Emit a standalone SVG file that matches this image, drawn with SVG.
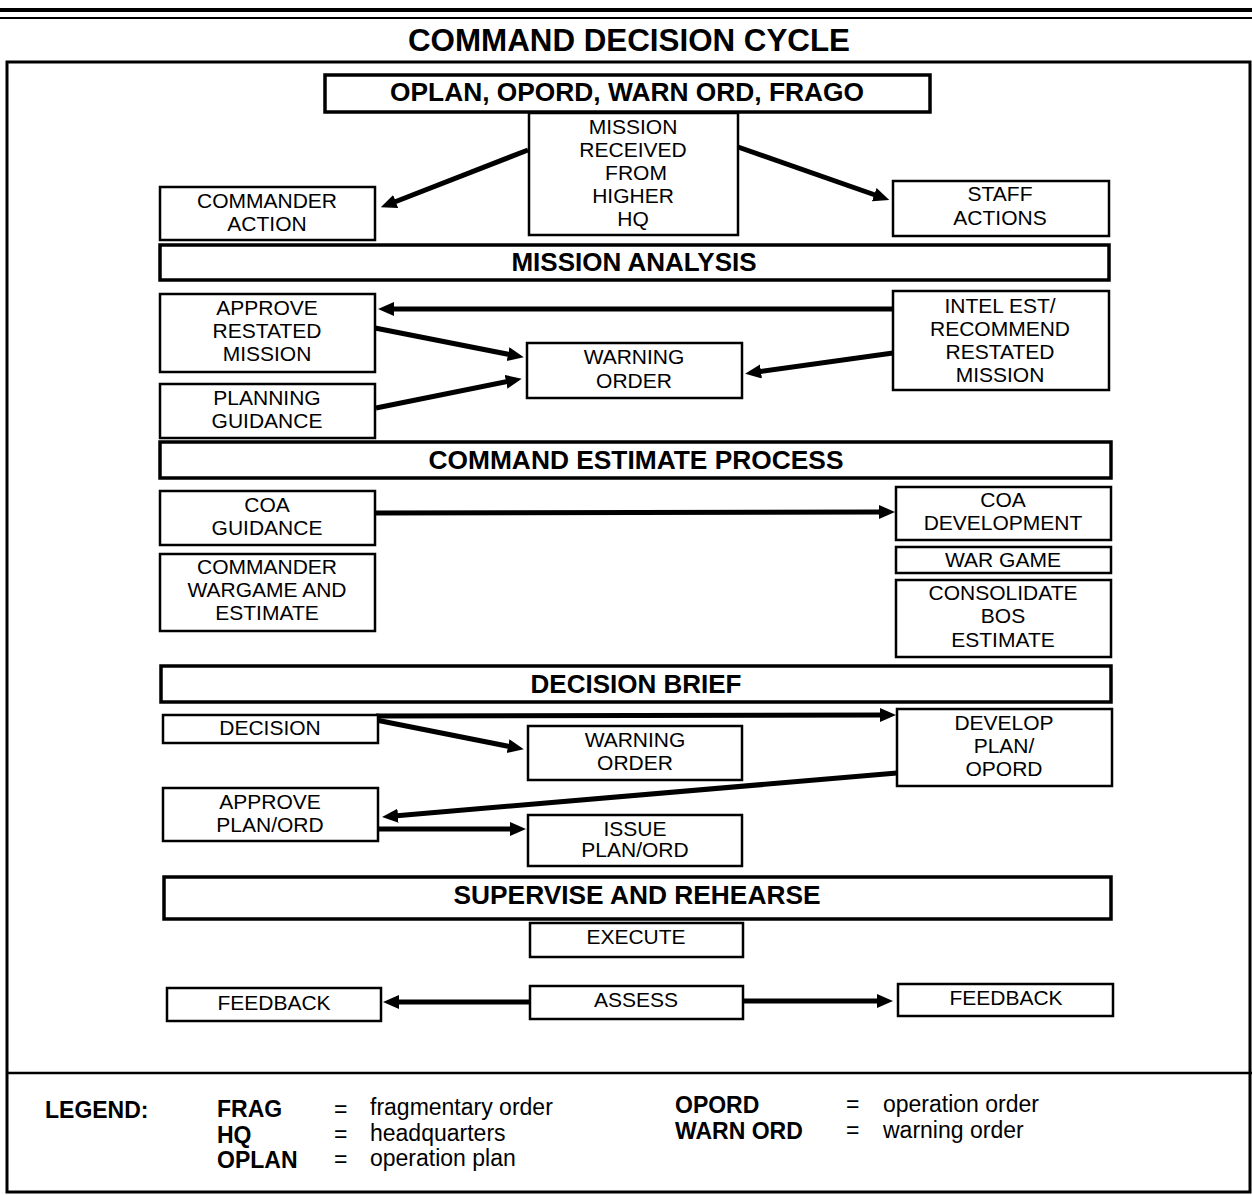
<svg xmlns="http://www.w3.org/2000/svg" width="1252" height="1195" viewBox="0 0 1252 1195">
<style>
.bx{fill:#fff;stroke:#000;stroke-width:2.5}
.hd{fill:#fff;stroke:#000;stroke-width:3.5}
.t{font-family:"Liberation Sans",Arial,sans-serif;font-size:21px;text-anchor:middle;fill:#000}
.h{font-family:"Liberation Sans",Arial,sans-serif;font-size:26px;font-weight:bold;text-anchor:middle;fill:#000}
.lg{font-family:"Liberation Sans",Arial,sans-serif;font-size:23px;fill:#000}
.lb{font-family:"Liberation Sans",Arial,sans-serif;font-size:23px;font-weight:bold;fill:#000}
.c{stroke:#000;stroke-width:5;fill:none;marker-end:url(#ah)}
</style>
<defs>
<marker id="ah" markerUnits="userSpaceOnUse" markerWidth="18" markerHeight="16" refX="4" refY="7" orient="auto">
<path d="M0,0 L16,7 L0,14 z" fill="#000"/>
</marker>
</defs>
<rect x="0" y="0" width="1252" height="1195" fill="#fff"/>
<rect x="0" y="8" width="1252" height="4" fill="#000"/>
<rect x="0" y="17" width="1252" height="2" fill="#000"/>
<text x="629" y="51" font-family="Liberation Sans,Arial,sans-serif" font-size="31" font-weight="bold" text-anchor="middle" textLength="442" lengthAdjust="spacingAndGlyphs">COMMAND DECISION CYCLE</text>
<rect x="7" y="62" width="1243" height="1130" fill="none" stroke="#000" stroke-width="3"/>
<line x1="8" y1="1073" x2="1252" y2="1073" stroke="#000" stroke-width="2.5"/>

<g id="connectors">
<line class="c" x1="528" y1="150" x2="392" y2="203"/>
<line class="c" x1="738" y1="147" x2="878" y2="196"/>
<line class="c" x1="893" y1="309" x2="390" y2="309"/>
<line class="c" x1="375" y1="328" x2="512" y2="355"/>
<line class="c" x1="376" y1="408" x2="510" y2="381"/>
<line class="c" x1="893" y1="353" x2="757" y2="372"/>
<line class="c" x1="376" y1="513" x2="883" y2="512"/>
<line class="c" x1="376" y1="716" x2="884" y2="715"/>
<line class="c" x1="376" y1="720" x2="512" y2="747"/>
<line class="c" x1="897" y1="773" x2="394" y2="816"/>
<line class="c" x1="378" y1="829" x2="514" y2="829"/>
<line class="c" x1="530" y1="1002" x2="395" y2="1002"/>
<line class="c" x1="743" y1="1001" x2="881" y2="1001"/>
</g>

<g id="oplan"><rect class="hd" x="325" y="75" width="605" height="37"/><text class="h" x="627" y="101" textLength="474" lengthAdjust="spacingAndGlyphs">OPLAN, OPORD, WARN ORD, FRAGO</text></g>
<g id="mission-received"><rect class="bx" x="529" y="113" width="209" height="122"/>
<text class="t" x="633" y="134">MISSION</text><text class="t" x="633" y="157">RECEIVED</text><text class="t" x="636" y="180">FROM</text><text class="t" x="633" y="203">HIGHER</text><text class="t" x="633" y="226">HQ</text></g>
<g id="commander-action"><rect class="bx" x="160" y="187" width="215" height="53"/>
<text class="t" x="267" y="208">COMMANDER</text><text class="t" x="267" y="231">ACTION</text></g>
<g id="staff-actions"><rect class="bx" x="893" y="181" width="216" height="55"/>
<text class="t" x="1000" y="201">STAFF</text><text class="t" x="1000" y="225">ACTIONS</text></g>
<g id="mission-analysis"><rect class="hd" x="160" y="245" width="949" height="35"/><text class="h" x="634" y="271">MISSION ANALYSIS</text></g>
<g id="approve-restated"><rect class="bx" x="160" y="294" width="215" height="78"/>
<text class="t" x="267" y="315">APPROVE</text><text class="t" x="267" y="338">RESTATED</text><text class="t" x="267" y="361">MISSION</text></g>
<g id="planning-guidance"><rect class="bx" x="160" y="384" width="215" height="54"/>
<text class="t" x="267" y="405">PLANNING</text><text class="t" x="267" y="428">GUIDANCE</text></g>
<g id="warning-order-1"><rect class="bx" x="527" y="343" width="215" height="55"/>
<text class="t" x="634" y="364">WARNING</text><text class="t" x="634" y="388">ORDER</text></g>
<g id="intel-est"><rect class="bx" x="893" y="291" width="216" height="99"/>
<text class="t" x="1000" y="313">INTEL EST/</text><text class="t" x="1000" y="336">RECOMMEND</text><text class="t" x="1000" y="359">RESTATED</text><text class="t" x="1000" y="382">MISSION</text></g>
<g id="command-estimate"><rect class="hd" x="160" y="442" width="951" height="36"/><text class="h" x="636" y="469" textLength="415" lengthAdjust="spacingAndGlyphs">COMMAND ESTIMATE PROCESS</text></g>
<g id="coa-guidance"><rect class="bx" x="160" y="491" width="215" height="54"/>
<text class="t" x="267" y="512">COA</text><text class="t" x="267" y="535">GUIDANCE</text></g>
<g id="commander-wargame"><rect class="bx" x="160" y="554" width="215" height="77"/>
<text class="t" x="267" y="574">COMMANDER</text><text class="t" x="267" y="597">WARGAME AND</text><text class="t" x="267" y="620">ESTIMATE</text></g>
<g id="coa-development"><rect class="bx" x="896" y="487" width="215" height="53"/>
<text class="t" x="1003" y="507">COA</text><text class="t" x="1003" y="530">DEVELOPMENT</text></g>
<g id="war-game"><rect class="bx" x="896" y="547" width="215" height="26"/>
<text class="t" x="1003" y="567">WAR GAME</text></g>
<g id="consolidate"><rect class="bx" x="896" y="580" width="215" height="77"/>
<text class="t" x="1003" y="600">CONSOLIDATE</text><text class="t" x="1003" y="623">BOS</text><text class="t" x="1003" y="647">ESTIMATE</text></g>
<g id="decision-brief"><rect class="hd" x="161" y="666" width="950" height="36"/><text class="h" x="636" y="693">DECISION BRIEF</text></g>
<g id="decision"><rect class="bx" x="163" y="715" width="215" height="28"/>
<text class="t" x="270" y="735">DECISION</text></g>
<g id="warning-order-2"><rect class="bx" x="528" y="726" width="214" height="54"/>
<text class="t" x="635" y="747">WARNING</text><text class="t" x="635" y="770">ORDER</text></g>
<g id="develop-plan"><rect class="bx" x="897" y="709" width="215" height="77"/>
<text class="t" x="1004" y="730">DEVELOP</text><text class="t" x="1004" y="753">PLAN/</text><text class="t" x="1004" y="776">OPORD</text></g>
<g id="approve-plan"><rect class="bx" x="163" y="788" width="215" height="53"/>
<text class="t" x="270" y="809">APPROVE</text><text class="t" x="270" y="832">PLAN/ORD</text></g>
<g id="issue-plan"><rect class="bx" x="528" y="815" width="214" height="51"/>
<text class="t" x="635" y="836">ISSUE</text><text class="t" x="635" y="857">PLAN/ORD</text></g>
<g id="supervise"><rect class="hd" x="164" y="877" width="947" height="42"/><text class="h" x="637" y="904" textLength="367" lengthAdjust="spacingAndGlyphs">SUPERVISE AND REHEARSE</text></g>
<g id="execute"><rect class="bx" x="530" y="923" width="213" height="34"/>
<text class="t" x="636" y="944">EXECUTE</text></g>
<g id="feedback-left"><rect class="bx" x="167" y="988" width="214" height="33"/>
<text class="t" x="274" y="1010">FEEDBACK</text></g>
<g id="assess"><rect class="bx" x="530" y="986" width="213" height="33"/>
<text class="t" x="636" y="1007">ASSESS</text></g>
<g id="feedback-right"><rect class="bx" x="898" y="984" width="215" height="32"/>
<text class="t" x="1006" y="1005">FEEDBACK</text></g>

<g id="legend">
<text class="lb" x="45" y="1118">LEGEND:</text>
<text class="lb" x="217" y="1117">FRAG</text><text class="lg" x="334" y="1117">=</text><text class="lg" x="370" y="1115">fragmentary order</text>
<text class="lb" x="217" y="1143">HQ</text><text class="lg" x="334" y="1142">=</text><text class="lg" x="370" y="1141">headquarters</text>
<text class="lb" x="217" y="1168">OPLAN</text><text class="lg" x="334" y="1167">=</text><text class="lg" x="370" y="1166">operation plan</text>
<text class="lb" x="675" y="1113">OPORD</text><text class="lg" x="846" y="1112">=</text><text class="lg" x="883" y="1112">operation order</text>
<text class="lb" x="675" y="1139">WARN ORD</text><text class="lg" x="846" y="1138">=</text><text class="lg" x="883" y="1138">warning order</text>
</g>
</svg>
